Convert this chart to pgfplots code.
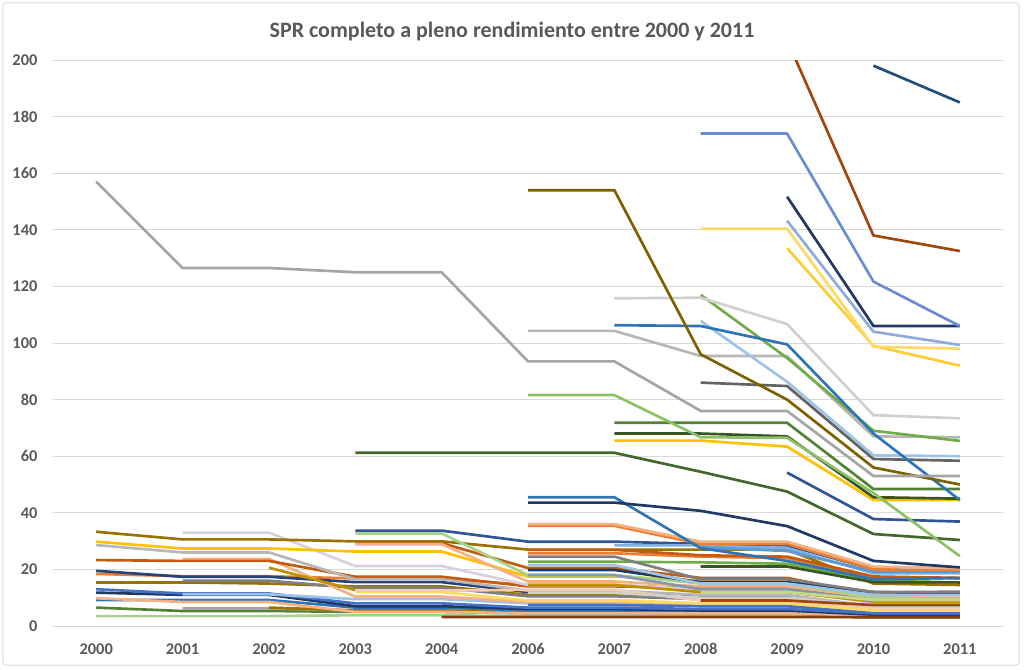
\documentclass[border=0pt]{standalone}
\usepackage{fontspec}
\setmainfont{Carlito}
\usepackage{pgfplots}
\pgfplotsset{compat=1.18}
\definecolor{cA}{HTML}{4472C4}
\definecolor{cB}{HTML}{ED7D31}
\definecolor{cC}{HTML}{A5A5A5}
\definecolor{cD}{HTML}{FFC000}
\definecolor{cE}{HTML}{5B9BD5}
\definecolor{cF}{HTML}{70AD47}
\definecolor{cNavy}{HTML}{264478}
\definecolor{cDNavy}{HTML}{203864}
\definecolor{cRust}{HTML}{9E480E}
\definecolor{cDRust}{HTML}{843C0C}
\definecolor{cDGray}{HTML}{636363}
\definecolor{cOlive}{HTML}{997300}
\definecolor{cDOlive}{HTML}{7F6000}
\definecolor{cDBlue}{HTML}{255E91}
\definecolor{cSlate}{HTML}{1F4E79}
\definecolor{cDGreen}{HTML}{43682B}
\definecolor{cDDGreen}{HTML}{375623}
\definecolor{cMBlue}{HTML}{698ED0}
\definecolor{cLav}{HTML}{8FAADC}
\definecolor{cLOrange}{HTML}{F4B183}
\definecolor{cLGray}{HTML}{B7B7B7}
\definecolor{cVLGray}{HTML}{D0D0D0}
\definecolor{cPink}{HTML}{D9CFE0}
\definecolor{cLGold}{HTML}{FFD966}
\definecolor{cYel}{HTML}{FFCD33}
\definecolor{cLBlue}{HTML}{9DC3E6}
\definecolor{cSky}{HTML}{7CAFDD}
\definecolor{cLGreen}{HTML}{8CC168}
\definecolor{cVLGreen}{HTML}{A9D18E}
\definecolor{cGreen2}{HTML}{548235}
\definecolor{cBlue2}{HTML}{2E75B6}
\definecolor{cBlue3}{HTML}{2F5597}
\definecolor{cOrange2}{HTML}{C55A11}
\definecolor{cGold2}{HTML}{BF9000}
\definecolor{cGray2}{HTML}{7F7F7F}
\definecolor{cBGray}{HTML}{8497B0}
\definecolor{cLime}{HTML}{C5D98E}
\definecolor{cSalm2}{HTML}{F8CBAD}
\definecolor{cTxt}{HTML}{595959}
\definecolor{cGrid}{HTML}{D9D9D9}
\begin{document}
\begin{tikzpicture}
\path[use as bounding box] (-39.75pt,-32.25pt) rectangle (728.25pt,469.5pt);
\draw[color=cGrid, line width=0.75pt, rounded corners=2pt] (-37.5pt,-29.25pt) rectangle (724.5pt,467.25pt);
\node[font=\fontsize{16.5}{19}\selectfont\bfseries, text=cTxt] at (344.25pt,446pt) {SPR completo a pleno rendimiento entre 2000 y 2011};
\begin{axis}[at={(0,0)}, anchor=south west, scale only axis,
  width=712.5pt, height=424.5pt,
  xmin=-0.5, xmax=10.5, ymin=0, ymax=200,
  ytick={0,20,...,200},
  xtick={0,...,10},
  xticklabels={2000,2001,2002,2003,2004,2006,2007,2008,2009,2010,2011},
  axis line style={draw=none},
  major tick length=0pt,
  ymajorgrids,
  grid style={color=cGrid, line width=0.75pt},
  ticklabel style={font=\fontsize{12.3}{14}\selectfont\bfseries, text=cTxt},
  yticklabel style={inner sep=0pt, xshift=-11.5pt},
  xticklabel style={inner sep=0pt, yshift=-12.75pt},
  /pgf/number format/assume math mode=true,
  no markers,
  every axis plot/.append style={line width=2pt, line join=round},
]
% ---- lower cluster ----
\addplot[cVLGreen] coordinates {(0,3.5)(1,3.5)(2,3.5)(3,3.8)(4,3.8)(5,3.5)(6,3.5)(7,3.5)(8,3.5)(9,3)(10,3)};
\addplot[cGreen2] coordinates {(0,6.5)(1,5.3)(2,5.3)(3,5)(4,5)(5,4.5)(6,4.5)(7,4.5)(8,4.5)(9,3.5)(10,3.5)};
\addplot[cC] coordinates {(1,6.2)(2,6.2)(3,5.5)(4,5.5)(5,5)(6,5)(7,5)(8,5)(9,4)(10,4)};
\addplot[cOlive] coordinates {(2,6.5)(3,5.5)(4,5.5)(5,4.8)(6,4.8)(7,4.8)(8,4.8)(9,3.8)(10,3.8)};
\addplot[cBlue2] coordinates {(0,9.2)(1,9.2)(2,9.2)(3,6.5)(4,6.5)(5,5.5)(6,5.5)(7,5.2)(8,5.2)(9,4)(10,4)};
\addplot[cLOrange] coordinates {(0,9.8)(1,8.5)(2,8.5)(3,5)(4,5)(5,4.5)(6,4.5)(7,4.5)(8,4.5)(9,3.5)(10,3.5)};
\addplot[cDNavy] coordinates {(0,11.8)(1,11)(2,11)(3,7)(4,7)(5,6)(6,6)(7,5.5)(8,5.5)(9,4)(10,4)};
\addplot[cA] coordinates {(0,13)(1,11.5)(2,11.5)(3,8)(4,8)(5,6.5)(6,6.5)(7,6)(8,6)(9,4.5)(10,4.5)};
\addplot[cLBlue] coordinates {(1,11.2)(2,11.2)(3,9.5)(4,9.5)(5,8)(6,8)(7,7.5)(8,7.5)(9,5.5)(10,5.5)};
\addplot[cOlive] coordinates {(0,15.4)(1,15.4)(2,15)(3,14)(4,14)(5,11)(6,11)(7,10)(8,10)(9,7)(10,7)};
\addplot[cGray2] coordinates {(1,16)(2,16)(3,13.5)(4,13.5)(5,10.5)(6,10.5)(7,9.5)(8,9.5)(9,6)(10,6)};
\addplot[cB] coordinates {(0,18.4)(1,17.6)(2,17.6)(3,16.8)(4,16.8)(5,14.5)(6,14.5)(7,13)(8,13)(9,8.5)(10,8.3)};
\addplot[cNavy] coordinates {(0,19.5)(1,17.4)(2,17.4)(3,15.5)(4,15.5)(5,12)(6,12)(7,10.5)(8,10.5)(9,6.5)(10,6.5)};
\addplot[cLOrange] coordinates {(1,23.7)(2,23.7)(3,10.4)(4,10.4)(5,8.5)(6,8.5)(7,7)(8,7)(9,5)(10,5)};
\addplot[cOrange2] coordinates {(0,23.3)(1,23)(2,23)(3,17.4)(4,17.4)(5,14)(6,14)(7,13.5)(8,13.5)(9,10)(10,9.8)};
\addplot[cGold2] coordinates {(2,20.6)(3,12.7)};
\addplot[cPink] coordinates {(1,33)(2,33)(3,21.2)(4,21.2)(5,14.5)(6,14.5)(7,13)(8,13)(9,8)(10,8)};
\addplot[cLGray] coordinates {(0,28.6)(1,26)(2,26)(3,16.5)(4,16.5)(5,12.5)(6,12.5)(7,11)(8,11)(9,7)(10,7)};
\addplot[cD] coordinates {(0,29.8)(1,27.4)(2,27.4)(3,26.3)(4,26.3)(5,17.5)(6,17.5)(7,16)(8,16)(9,9.5)(10,9.2)};
\addplot[cOlive] coordinates {(0,33.3)(1,30.6)(2,30.6)(3,29.9)(4,29.9)(5,27)(6,27)(7,27)(8,27)(9,15)(10,14.5)};
\addplot[cLGold] coordinates {(3,12)(4,12)(5,9)(6,9)(7,8)(8,8)(9,5.7)(10,5.7)};
\addplot[cSalm2] coordinates {(3,12.5)(4,12.5)(5,12.8)(6,12.8)(7,9)(8,9)(9,6.5)(10,6.5)};
\addplot[cOrange2] coordinates {(3,29.3)(4,29.3)(5,20.5)(6,20.5)(7,17)(8,17)(9,11)(10,11)};
\addplot[cLOrange] coordinates {(3,28.9)(4,28.9)(5,15.7)(6,15.7)(7,14)(8,14)(9,10)(10,10)};
\addplot[cVLGreen] coordinates {(3,32.7)(4,32.7)(5,18)(6,18)(7,15)(8,15)(9,10)(10,9.5)};
\addplot[cBlue3] coordinates {(3,33.7)(4,33.7)(5,29.8)(6,29.8)(7,29)(8,28.5)(9,20)(10,19)};
\addplot[cDRust] coordinates {(4,3.2)(5,3.2)(6,3.2)(7,3.2)(8,3.2)(9,3.1)(10,3.1)};
\addplot[cA] coordinates {(5,7.4)(6,7.4)(7,7)(8,7)(9,4.5)(10,4.5)};
\addplot[cLGold] coordinates {(5,9.2)(6,9.2)(7,8)(8,8)(9,5.5)(10,5.5)};
\addplot[cVLGray] coordinates {(5,11.7)(6,11.7)(7,10)(8,10)(9,7)(10,7)};
\addplot[cGold2] coordinates {(5,14.5)(6,14.5)(7,12)(8,12)(9,8.6)(10,8.6)};
\addplot[cBGray] coordinates {(5,18)(6,18)(7,13)(8,13)(9,9)(10,9)};
\addplot[cDNavy] coordinates {(5,19.8)(6,19.8)(7,15.5)(8,15.5)(9,12)(10,11.5)};
\addplot[cLBlue] coordinates {(5,21.5)(6,21.5)(7,15)(8,15)(9,11)(10,11)};
\addplot[cF] coordinates {(5,22.7)(6,22.7)(7,22.5)(8,22)(9,16)(10,15.4)};
\addplot[cGray2] coordinates {(5,24.5)(6,24.5)(7,16.5)(8,16.5)(9,12)(10,12.1)};
\addplot[cB] coordinates {(5,25.7)(6,25.7)(7,24.5)(8,24)(9,17)(10,16.8)};
\addplot[cOrange2] coordinates {(5,26.9)(6,26.9)(7,25)(8,24.5)(9,17.5)(10,17)};
\addplot[cLime] coordinates {(7,12)(8,12)(9,9.2)(10,9.2)};
\addplot[cRust] coordinates {(7,9)(8,9)(9,7.4)(10,7.4)};
\addplot[cDDGreen] coordinates {(7,21)(8,21)(9,15.5)(10,15.4)};
\addplot[cSky] coordinates {(6,28.5)(7,28.5)(8,27.5)(9,18.6)(10,18.6)};
\addplot[cE] coordinates {(7,27.8)(8,26.5)(9,19.2)(10,19.2)};
\addplot[cB] coordinates {(5,35.4)(6,35.4)(7,29)(8,29)(9,20)(10,19.8)};
\addplot[cLOrange] coordinates {(5,36)(6,36)(7,29.8)(8,29.8)(9,21)(10,20.4)};
\addplot[cBlue2] coordinates {(5,45.5)(6,45.5)(7,27.5)(8,23)(9,16.5)(10,17)};
\addplot[cDNavy] coordinates {(5,43.6)(6,43.6)(7,40.7)(8,35.3)(9,23)(10,20.7)};
% ---- upper series ----
\addplot[cBlue3] coordinates {(8,54.2)(9,37.8)(10,36.9)};
\addplot[cDGreen] coordinates {(3,61.2)(4,61.2)(5,61.2)(6,61.2)(7,54.5)(8,47.5)(9,32.5)(10,30.4)};
\addplot[cD] coordinates {(6,65.5)(7,65.5)(8,63.4)(9,44.5)(10,44.5)};
\addplot[cDDGreen] coordinates {(6,68)(7,68)(8,67)(9,45.5)(10,45)};
\addplot[cGreen2] coordinates {(6,71.8)(7,71.8)(8,71.8)(9,48.4)(10,48.4)};
\addplot[cLGreen] coordinates {(5,81.6)(6,81.6)(7,66.7)(8,66.5)(9,47)(10,24.7)};
\addplot[cDGray] coordinates {(7,86)(8,84.8)(9,59)(10,58.4)};
\addplot[cLGray] coordinates {(5,104.3)(6,104.3)(7,95.4)(8,95.4)(9,67)(10,66.7)};
\addplot[cLBlue] coordinates {(7,107.8)(8,86.3)(9,60.3)(10,60)};
\addplot[cF] coordinates {(7,117)(8,94.7)(9,69)(10,65.4)};
\addplot[cBlue2] coordinates {(6,106.3)(7,106)(8,99.5)(9,68)(10,44.5)};
\addplot[cVLGray] coordinates {(6,115.8)(7,116)(8,106.7)(9,74.5)(10,73.4)};
\addplot[cYel] coordinates {(8,133.5)(9,99)(10,92)};
\addplot[cLGold] coordinates {(7,140.4)(8,140.4)(9,98.7)(10,98)};
\addplot[cLav] coordinates {(8,143.2)(9,104)(10,99.3)};
\addplot[cDNavy] coordinates {(8,151.7)(9,106)(10,106)};
\addplot[cMBlue] coordinates {(7,174)(8,174)(9,121.7)(10,106)};
\addplot[cSlate] coordinates {(9,198)(10,185)};
\addplot[cRust] coordinates {(8,207)(9,138)(10,132.5)};
\addplot[cDOlive] coordinates {(5,154)(6,154)(7,96)(8,80)(9,56)(10,50)};
\addplot[cC] coordinates {(0,157)(1,126.5)(2,126.5)(3,125)(4,125)(5,93.5)(6,93.5)(7,76)(8,76)(9,53)(10,53)};
\end{axis}
\end{tikzpicture}
\end{document}
